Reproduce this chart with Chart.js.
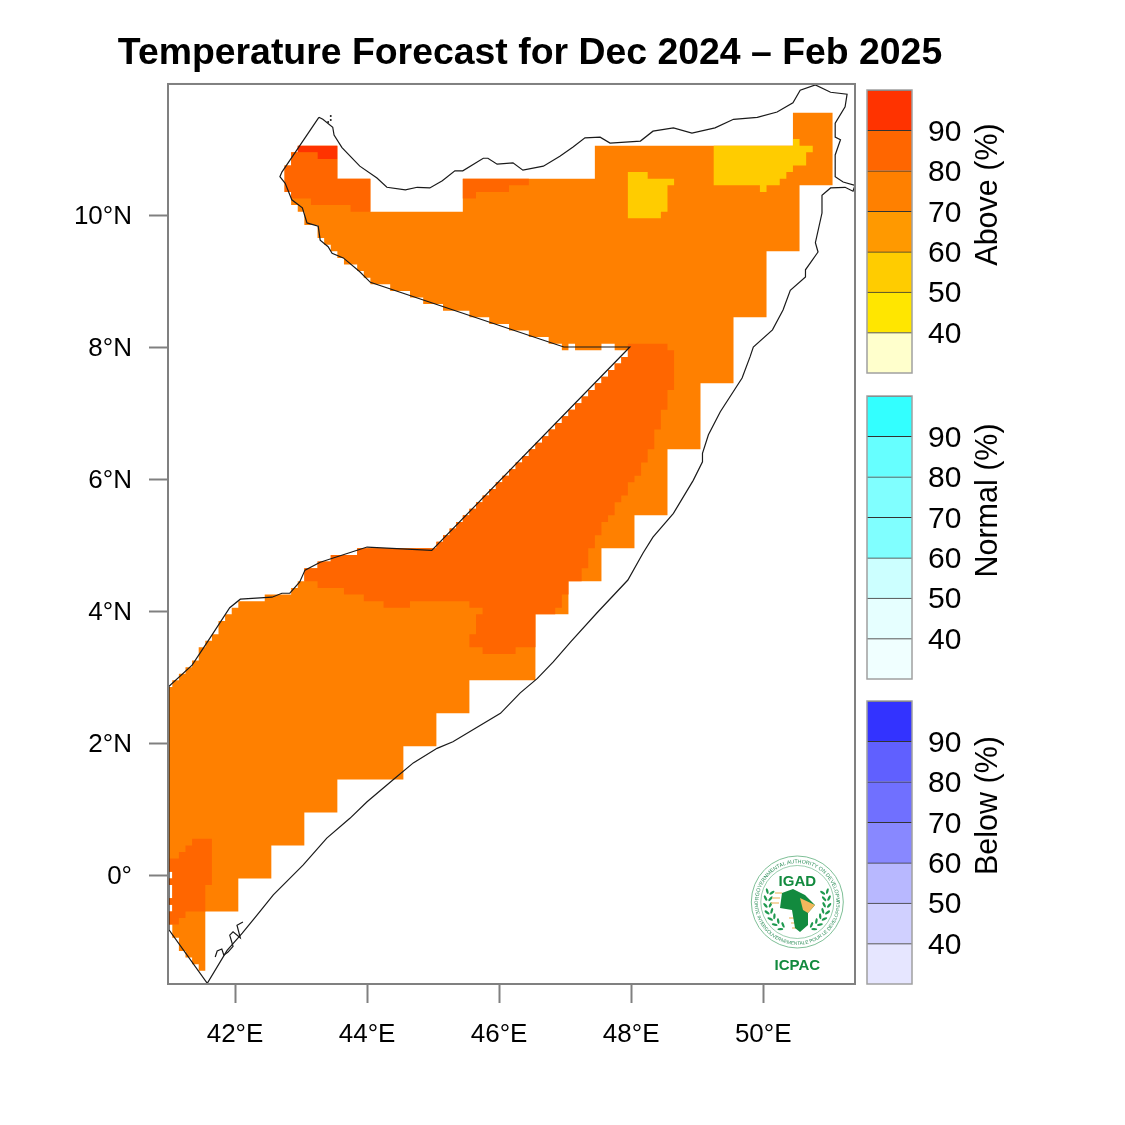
<!DOCTYPE html>
<html>
<head>
<meta charset="utf-8">
<title>Temperature Forecast</title>
<script src="https://cdn.jsdelivr.net/npm/chart.js@4"></script>
<style>
  body { margin: 0; background: #fff; }
  canvas, svg { position: absolute; }
</style>
</head>
<body>
<canvas id="mapChart" width="1060" height="1125" style="left:0;top:0"></canvas>
<canvas id="aboveBar" width="265" height="295" style="left:860px;top:84px"></canvas>
<canvas id="normalBar" width="265" height="295" style="left:860px;top:390px"></canvas>
<canvas id="belowBar" width="265" height="295" style="left:860px;top:695px"></canvas>
<svg id="logo" width="105" height="130" viewBox="0 0 105 130" style="left:745px;top:850px"></svg>

<script>
// Axis ticks
const lonTicks = [42, 44, 46, 48, 50];
const lonLabels = ['42°E', '44°E', '46°E', '48°E', '50°E'];
const latTicks = [0, 2, 4, 6, 8, 10];
const latLabels = ['0°', '2°N', '4°N', '6°N', '8°N', '10°N'];

// Colour bar classes
const bandLow = [30, 40, 50, 60, 70, 80, 90];
const bandHigh = [40, 50, 60, 70, 80, 90, 100];
const barTicks = [40, 50, 60, 70, 80, 90];
const aboveColors = ['#FFFFCC', '#FFE600', '#FFCC00', '#FF9900', '#FF8000', '#FF6600', '#FF3300'];
const normalColors = ['#F0FFFF', '#E6FFFF', '#CCFFFF', '#80FFFF', '#80FFFF', '#66FFFF', '#33FFFF'];
const belowColors = ['#E6E6FF', '#D0D0FF', '#B8B8FF', '#8888FF', '#7070FF', '#6060FF', '#3333FF'];

// Stair edge of the forecast grid along the straight border, [lon, lat]
const borderStairs = [
  [45.05, 4.95], [45.05, 5.05], [45.15, 5.05], [45.15, 5.15], [45.25, 5.15], [45.25, 5.25], [45.35, 5.25], [45.35, 5.35],
  [45.45, 5.35], [45.45, 5.45], [45.55, 5.45], [45.55, 5.55], [45.65, 5.55], [45.65, 5.65], [45.75, 5.65], [45.75, 5.75],
  [45.85, 5.75], [45.85, 5.85], [45.95, 5.85], [45.95, 5.95], [46.05, 5.95], [46.05, 6.05], [46.15, 6.05], [46.15, 6.15],
  [46.25, 6.15], [46.25, 6.25], [46.35, 6.25], [46.35, 6.35], [46.45, 6.35], [46.45, 6.45], [46.55, 6.45], [46.55, 6.55],
  [46.65, 6.55], [46.65, 6.65], [46.75, 6.65], [46.75, 6.75], [46.85, 6.75], [46.85, 6.85], [46.95, 6.85], [46.95, 6.95],
  [47.05, 6.95], [47.05, 7.05], [47.15, 7.05], [47.15, 7.15], [47.25, 7.15], [47.25, 7.25], [47.35, 7.25], [47.35, 7.35],
  [47.45, 7.35], [47.45, 7.45], [47.55, 7.45], [47.55, 7.55], [47.65, 7.55], [47.65, 7.65], [47.75, 7.65], [47.75, 7.75],
  [47.85, 7.75], [47.85, 7.85], [47.95, 7.85], [47.95, 7.95]
];
const southCoastStairs = [
  [43.05, 4.65], [43.25, 4.65], [43.25, 4.75], [43.45, 4.75], [43.45, 4.85], [43.85, 4.85], [43.85, 4.95]
];

// 70-80% class, the main area
const class70 = [
  [42.95, 11.05], [43.55, 11.05], [43.55, 10.55], [44.05, 10.55], [44.05, 10.05], [45.45, 10.05], [45.45, 10.55],
  [47.45, 10.55], [47.45, 11.05], [50.45, 11.05], [50.45, 11.55], [51.05, 11.55], [51.05, 10.45], [50.55, 10.45],
  [50.55, 9.45], [50.05, 9.45], [50.05, 8.45], [49.55, 8.45], [49.55, 7.45], [49.05, 7.45], [49.05, 6.45], [48.55, 6.45],
  [48.55, 5.45], [48.05, 5.45], [48.05, 4.95], [47.55, 4.95], [47.55, 4.45], [47.05, 4.45], [47.05, 3.95], [46.55, 3.95],
  [46.55, 2.95], [45.55, 2.95], [45.55, 2.45], [45.05, 2.45], [45.05, 1.95], [44.55, 1.95], [44.55, 1.45], [43.55, 1.45],
  [43.55, 0.95], [43.05, 0.95], [43.05, 0.45], [42.55, 0.45], [42.55, -0.05], [42.05, -0.05], [42.05, -0.55], [41.55, -0.55],
  [41.55, -1.45], [41.45, -1.45], [41.45, -1.35], [41.35, -1.35], [41.35, -1.25], [41.25, -1.25], [41.25, -1.15],
  [41.15, -1.15], [41.15, -0.95], [41.05, -0.95], [41.05, -0.75], [41, -0.75], [41, -0.55], [41.05, -0.55], [41.05, -0.45],
  [41, -0.45], [41, -0.35], [41.05, -0.35], [41.05, -0.15], [41, -0.15], [41, -0.05], [41.05, -0.05], [41.05, 0.05], [41, 0.05],
  [41, 2.85], [41.05, 2.85], [41.05, 2.95], [41.15, 2.95], [41.15, 3.05], [41.25, 3.05], [41.25, 3.15], [41.35, 3.15],
  [41.35, 3.25], [41.45, 3.25], [41.45, 3.45], [41.55, 3.45], [41.55, 3.55], [41.65, 3.55], [41.65, 3.65], [41.75, 3.65],
  [41.75, 3.85], [41.85, 3.85], [41.85, 3.95], [41.95, 3.95], [41.95, 4.05], [42.05, 4.05], [42.05, 4.15], [42.45, 4.15],
  [42.45, 4.25], [42.85, 4.25], [42.85, 4.35], [42.95, 4.35], [42.95, 4.45], [43.05, 4.45],
  ...southCoastStairs, ...borderStairs,
  [47.75, 7.95], [47.75, 8.05], [47.55, 8.05], [47.55, 7.95], [47.15, 7.95], [47.15, 8.05], [47.05, 8.05], [47.05, 7.95],
  [46.95, 7.95], [46.95, 8.05], [46.75, 8.05], [46.75, 8.15], [46.45, 8.15], [46.45, 8.25], [46.15, 8.25], [46.15, 8.35],
  [45.85, 8.35], [45.85, 8.45], [45.55, 8.45], [45.55, 8.55], [45.15, 8.55], [45.15, 8.65], [44.85, 8.65], [44.85, 8.75],
  [44.65, 8.75], [44.65, 8.85], [44.35, 8.85], [44.35, 8.95], [44.05, 8.95], [44.05, 9.05], [43.95, 9.05], [43.95, 9.15],
  [43.85, 9.15], [43.85, 9.25], [43.65, 9.25], [43.65, 9.35], [43.55, 9.35], [43.55, 9.45], [43.45, 9.45], [43.45, 9.55],
  [43.35, 9.55], [43.35, 9.65], [43.25, 9.65], [43.25, 9.85], [43.05, 9.85], [43.05, 10.05], [42.95, 10.05], [42.95, 10.15],
  [42.85, 10.15], [42.85, 10.35], [42.75, 10.35], [42.75, 10.75], [42.85, 10.75], [42.85, 10.95], [42.95, 10.95]
];

// 80-90% class
const class80Centre = [
  [47.95, 8.05], [48.55, 8.05], [48.55, 7.95], [48.65, 7.95], [48.65, 7.35], [48.55, 7.35], [48.55, 7.05], [48.45, 7.05],
  [48.45, 6.75], [48.35, 6.75], [48.35, 6.45], [48.25, 6.45], [48.25, 6.25], [48.15, 6.25], [48.15, 6.05], [48.05, 6.05],
  [48.05, 5.95], [47.95, 5.95], [47.95, 5.75], [47.85, 5.75], [47.85, 5.65], [47.75, 5.65], [47.75, 5.45], [47.65, 5.45],
  [47.65, 5.35], [47.55, 5.35], [47.55, 5.15], [47.45, 5.15], [47.45, 4.95], [47.35, 4.95], [47.35, 4.65], [47.25, 4.65],
  [47.25, 4.45], [47.05, 4.45], [47.05, 4.25], [46.95, 4.25], [46.95, 4.05], [46.85, 4.05], [46.85, 3.95], [46.55, 3.95],
  [46.55, 3.45], [46.25, 3.45], [46.25, 3.35], [45.75, 3.35], [45.75, 3.45], [45.55, 3.45], [45.55, 3.65], [45.65, 3.65],
  [45.65, 3.95], [45.75, 3.95], [45.75, 4.05], [45.55, 4.05], [45.55, 4.15], [44.65, 4.15], [44.65, 4.05], [44.25, 4.05],
  [44.25, 4.15], [43.95, 4.15], [43.95, 4.25], [43.65, 4.25], [43.65, 4.35], [43.25, 4.35], [43.25, 4.45], [43.05, 4.45],
  ...southCoastStairs, ...borderStairs
];
const class80North = [
  [42.95, 10.95], [43.25, 10.95], [43.25, 10.85], [43.55, 10.85], [43.55, 10.55], [44.05, 10.55], [44.05, 10.05], [43.75, 10.05],
  [43.75, 10.15], [43.15, 10.15], [43.15, 10.25], [42.85, 10.25], [42.85, 10.35], [42.75, 10.35], [42.75, 10.75], [42.85, 10.75],
  [42.85, 10.95]
];
const class80Strip = [
  [45.45, 10.55], [46.45, 10.55], [46.45, 10.45], [46.15, 10.45], [46.15, 10.35], [45.65, 10.35], [45.65, 10.25], [45.45, 10.25]
];
const class80South = [
  [41.35, 0.55], [41.65, 0.55], [41.65, -0.15], [41.55, -0.15], [41.55, -0.55], [41.25, -0.55], [41.25, -0.65], [41.15, -0.65],
  [41.15, -0.75], [41, -0.75], [41, -0.55], [41.05, -0.55], [41.05, -0.45], [41, -0.45], [41, -0.35], [41.05, -0.35],
  [41.05, -0.15], [41, -0.15], [41, -0.05], [41.05, -0.05], [41.05, 0.05], [41, 0.05], [41, 0.25], [41.15, 0.25], [41.15, 0.35],
  [41.25, 0.35], [41.25, 0.45], [41.35, 0.45]
];

// 90+% class
const class90 = [[42.95, 11.05], [43.55, 11.05], [43.55, 10.85], [43.25, 10.85], [43.25, 10.95], [42.95, 10.95]];

// 50-60% class
const class50West = [
  [47.95, 10.65], [48.25, 10.65], [48.25, 10.55], [48.65, 10.55], [48.65, 10.45], [48.55, 10.45], [48.55, 10.05], [48.45, 10.05],
  [48.45, 9.95], [47.95, 9.95]
];
const class50East = [
  [49.25, 11.05], [50.45, 11.05], [50.45, 11.15], [50.55, 11.15], [50.55, 11.05], [50.75, 11.05], [50.75, 10.95], [50.65, 10.95],
  [50.65, 10.75], [50.45, 10.75], [50.45, 10.65], [50.35, 10.65], [50.35, 10.55], [50.25, 10.55], [50.25, 10.45], [50.05, 10.45],
  [50.05, 10.35], [49.95, 10.35], [49.95, 10.45], [49.25, 10.45]
];

// Country outline
const outline = [
  [43.27, 11.48], [43.33, 11.45], [43.48, 11.33], [43.50, 11.21], [43.62, 11.02], [43.89, 10.74], [44.15, 10.56], [44.30, 10.42],
  [44.58, 10.38], [44.76, 10.42], [44.95, 10.41], [45.14, 10.52], [45.33, 10.67], [45.45, 10.67], [45.76, 10.86], [45.83, 10.86],
  [45.97, 10.77], [46.21, 10.79], [46.36, 10.68], [46.67, 10.74], [46.92, 10.89], [47.12, 11.03], [47.30, 11.17], [47.53, 11.18],
  [47.68, 11.09], [48.14, 11.12], [48.33, 11.27], [48.64, 11.32], [48.92, 11.24], [49.27, 11.32], [49.55, 11.45], [49.91, 11.48],
  [50.21, 11.56], [50.45, 11.70], [50.56, 11.89], [50.79, 11.97], [51.02, 11.86], [51.27, 11.83], [51.24, 11.64], [51.09, 11.39],
  [51.09, 11.18], [51.17, 11.14], [51.09, 10.91], [51.09, 10.58], [51.21, 10.50], [51.39, 10.45], [51.36, 10.36], [51.24, 10.42],
  [51.02, 10.41], [50.89, 10.30], [50.89, 10.03], [50.79, 9.58], [50.83, 9.44], [50.64, 9.17], [50.64, 9.06], [50.41, 8.86],
  [50.30, 8.56], [50.14, 8.26], [49.85, 8.00], [49.80, 7.85], [49.68, 7.53], [49.35, 7.02], [49.17, 6.67], [49.08, 6.39],
  [49.08, 6.26], [48.94, 5.98], [48.64, 5.48], [48.33, 5.12], [48.18, 4.88], [47.95, 4.47], [47.48, 3.97], [47.08, 3.53],
  [46.82, 3.23], [46.58, 2.98], [46.32, 2.76], [46.02, 2.45], [45.30, 2.02], [45.06, 1.92], [44.70, 1.70], [44.39, 1.44],
  [44.00, 1.11], [43.74, 0.86], [43.39, 0.56], [43.03, 0.15], [42.58, -0.30], [42.33, -0.61], [42.11, -0.88], [41.88, -1.14],
  [41.58, -1.64], [41, -0.83], [41, 2.86], [41.35, 3.18], [41.62, 3.59], [41.92, 4.05], [42.08, 4.18], [42.56, 4.21],
  [42.71, 4.27], [42.83, 4.27], [42.98, 4.44], [43.06, 4.62], [43.29, 4.74], [44.00, 4.97], [44.98, 4.92], [47.98, 8.00],
  [46.98, 8.00], [46.65, 8.11], [44.05, 8.98], [43.89, 9.14], [43.64, 9.35], [43.47, 9.42], [43.41, 9.52], [43.29, 9.62],
  [43.26, 9.83], [43.09, 9.88], [43.02, 10.11], [42.86, 10.23], [42.76, 10.48], [42.68, 10.58], [42.71, 10.65], [43.27, 11.48]
];
const southIslands = [
  [41.70, -1.24], [41.73, -1.15], [41.80, -1.12], [41.83, -1.21], [41.89, -1.17], [41.97, -1.08], [41.92, -0.91], [41.97, -0.86],
  [42.08, -0.95], [42.03, -0.76], [42.12, -0.71]
];
const northIslets = [[43.45, 11.50], [43.45, 11.44], [43.41, 11.41]];

const toXY = pts => pts.map(p => ({ x: p[0], y: p[1] }));

function areaSet(pts, color, order) {
  return {
    data: toXY(pts), showLine: true, fill: 'shape', backgroundColor: color,
    borderWidth: 0, pointRadius: 0, order: order
  };
}
function lineSet(pts, order) {
  return {
    data: toXY(pts), showLine: true, fill: false, borderColor: '#1a1a1a',
    borderWidth: 1.2, pointRadius: 0, order: order
  };
}

// gray box around a plot
function frameBox(color, width) {
  return {
    id: 'frame',
    afterDraw(chart) {
      const a = chart.chartArea, c = chart.ctx;
      c.save();
      c.strokeStyle = color;
      c.lineWidth = width;
      c.strokeRect(a.left, a.top, a.right - a.left, a.bottom - a.top);
      c.restore();
    }
  };
}

new Chart(document.getElementById('mapChart'), {
  type: 'scatter',
  data: {
    datasets: [
      areaSet(class70, '#FF8000', 9),
      areaSet(class80Centre, '#FF6600', 8),
      areaSet(class80North, '#FF6600', 7),
      areaSet(class80Strip, '#FF6600', 6),
      areaSet(class80South, '#FF6600', 5),
      areaSet(class90, '#FF3300', 4),
      areaSet(class50West, '#FFCC00', 3),
      areaSet(class50East, '#FFCC00', 2),
      lineSet(outline, 1),
      lineSet(southIslands, 0),
      { data: toXY(northIslets), pointRadius: 1, backgroundColor: '#1a1a1a', borderWidth: 0, order: 0 }
    ]
  },
  options: {
    responsive: false,
    animation: false,
    layout: { padding: 0 },
    plugins: {
      legend: { display: false },
      tooltip: { enabled: false },
      title: {
        display: true,
        text: 'Temperature Forecast for Dec 2024 – Feb 2025',
        color: '#000',
        font: { family: 'Liberation Sans', size: 37.4, weight: 'bold', lineHeight: 1.2 },
        padding: { top: 31, bottom: 8.1 }
      }
    },
    scales: {
      x: {
        type: 'linear', min: 40.985, max: 51.39,
        afterBuildTicks: s => { s.ticks = lonTicks.map(v => ({ value: v })); },
        afterFit: s => { s.height = 141; },
        grid: { drawOnChartArea: false, color: '#808080', tickColor: '#808080', tickLength: 19, tickWidth: 2 },
        border: { display: false },
        ticks: {
          color: '#000', padding: 16, maxRotation: 0, autoSkip: false,
          font: { family: 'Liberation Sans', size: 26 },
          callback: v => lonLabels[lonTicks.indexOf(v)]
        }
      },
      y: {
        type: 'linear', min: -1.65, max: 11.985,
        afterBuildTicks: s => { s.ticks = latTicks.map(v => ({ value: v })); },
        afterFit: s => { s.width = 168; },
        grid: { drawOnChartArea: false, color: '#808080', tickColor: '#808080', tickLength: 19, tickWidth: 2 },
        border: { display: false },
        ticks: {
          color: '#000', padding: 17, autoSkip: false, labelOffset: 2,
          font: { family: 'Liberation Sans', size: 26 },
          callback: v => latLabels[latTicks.indexOf(v)]
        }
      },
      // empty axis that keeps the room for the colour bars
      yRoom: {
        type: 'linear', position: 'right', display: true,
        afterFit: s => { s.width = 205; },
        grid: { display: false, drawTicks: false },
        border: { display: false },
        ticks: { display: false }
      }
    }
  },
  plugins: [frameBox('#808080', 2)]
});

function colourBar(id, colors, name) {
  new Chart(document.getElementById(id), {
    type: 'bar',
    data: {
      labels: [name],
      datasets: bandLow.map((low, i) => ({
        data: [[low, bandHigh[i]]],
        backgroundColor: colors[i],
        borderColor: '#333',
        borderWidth: { top: 1, bottom: 0, left: 0, right: 0 },
        borderSkipped: false,
        grouped: false,
        barPercentage: 1,
        categoryPercentage: 1
      }))
    },
    options: {
      responsive: false,
      animation: false,
      layout: { padding: { left: 7, top: 6, bottom: 6, right: 0 } },
      plugins: { legend: { display: false }, tooltip: { enabled: false } },
      scales: {
        x: { display: false },
        y: {
          position: 'right', min: 30, max: 100,
          afterBuildTicks: s => { s.ticks = barTicks.map(v => ({ value: v })); },
          afterFit: s => { s.width = 213; s.paddingTop = 0; s.paddingBottom = 0; },
          grid: { display: false, drawTicks: false },
          border: { display: false },
          ticks: { color: '#000', padding: 16, labelOffset: 2, font: { family: 'Liberation Sans', size: 30 } }
        }
      }
    },
    plugins: [frameBox('#a0a0a0', 1.5), {
      // axis name reads upwards and sits above the middle of the bar
      id: 'barName',
      afterDraw(chart) {
        const c = chart.ctx, a = chart.chartArea;
        c.save();
        c.translate(129, (a.top + a.bottom) / 2 - 37);
        c.rotate(-Math.PI / 2);
        c.font = '30.5px "Liberation Sans"';
        c.fillStyle = '#000';
        c.textAlign = 'center';
        c.textBaseline = 'middle';
        c.fillText(name, 0, 0);
        c.restore();
      }
    }]
  });
}
colourBar('aboveBar', aboveColors, 'Above (%)');
colourBar('normalBar', normalColors, 'Normal (%)');
colourBar('belowBar', belowColors, 'Below (%)');

// IGAD / ICPAC logo, wreath leaves on both sides of the inner ring
let leaves = '';
for (const side of [-1, 1]) {
  for (let t = -20; t <= 70; t += 13) {
    const rad = t * Math.PI / 180;
    for (const r of [27, 32]) {
      const lx = 52.3 + side * r * Math.cos(rad);
      const ly = 52 + r * Math.sin(rad);
      const tilt = side * ((r === 27 ? 55 : 125) + t);
      leaves += '<ellipse cx="' + lx + '" cy="' + ly + '" rx="3" ry="1.2" fill="#1f9a50" transform="rotate(' + tilt + ' ' + lx + ' ' + ly + ')"/>';
    }
  }
}
document.getElementById('logo').innerHTML =
  '<defs><path id="arcTop" d="M 13.5 52 A 38.8 38.8 0 0 1 91.1 52"/><path id="arcBottom" d="M 9.5 52 A 42.8 42.8 0 0 0 95.1 52"/></defs>' +
  '<circle cx="52.3" cy="52" r="46" fill="#fff" stroke="#6fb88a" stroke-width="0.9"/>' +
  '<circle cx="52.3" cy="52" r="36.5" fill="none" stroke="#6fb88a" stroke-width="0.7"/>' +
  '<text font-family="Liberation Sans" font-size="5.3" fill="#2f8f5a"><textPath href="#arcTop" startOffset="50%" text-anchor="middle">INTERGOVERNMENTAL AUTHORITY ON DEVELOPMENT</textPath></text>' +
  '<text font-family="Liberation Sans" font-size="4.8" fill="#2f8f5a"><textPath href="#arcBottom" startOffset="50%" text-anchor="middle">AUTORITE INTERGOUVERNEMENTALE POUR LE DEVELOPPEMENT</textPath></text>' +
  leaves +
  '<path d="M30 43h7M27 48h8M26 53h8M44 68h6M46 73h6M47 78h5" stroke="#f2c98a" stroke-width="1.6"/>' +
  '<path d="M37 43 48 39 60 45 70 55 63 63 63 75 55 82 50 78 47 60 35 58Z" fill="#128a3e"/>' +
  '<path d="M55 48 70 55 63 63 58 60Z" fill="#f2b75c"/>' +
  '<text x="52.3" y="36" text-anchor="middle" font-family="Liberation Sans" font-weight="bold" font-size="15" fill="#128a3e">IGAD</text>' +
  '<text x="52.3" y="120" text-anchor="middle" font-family="Liberation Sans" font-weight="bold" font-size="15" fill="#128a3e">ICPAC</text>';
</script>
</body>
</html>
